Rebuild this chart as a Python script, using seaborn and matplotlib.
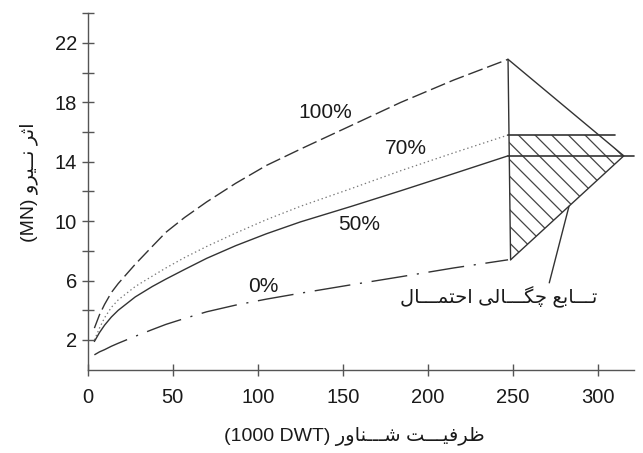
import numpy as np
import pandas as pd
import seaborn as sns
import matplotlib.pyplot as plt
from matplotlib.ticker import FixedLocator

# ظرفیت شناور (1000 DWT) و اثر نیرو (MN) خوانده شده از نمودار
dwt = [4, 7, 10, 14, 18, 28, 38, 46, 57, 70, 87, 105, 125, 155, 184, 215, 247]
force_100 = [2.8, 3.7, 4.4, 5.2, 5.8, 7.1, 8.3, 9.25, 10.25, 11.3, 12.55, 13.75, 14.85,
             16.45, 18.0, 19.5, 20.9]
force_70 = [2.0, 2.8, 3.5, 4.2, 4.7, 5.6, 6.3, 6.85, 7.55, 8.3, 9.2, 10.1, 11.0,
            12.2, 13.4, 14.6, 15.8]
force_50 = [1.9, 2.5, 3.0, 3.55, 4.0, 4.9, 5.6, 6.1, 6.75, 7.5, 8.35, 9.15, 9.95,
            11.0, 12.05, 13.2, 14.4]
force_0 = [1.0, 1.2, 1.35, 1.58, 1.78, 2.25, 2.7, 3.05, 3.45, 3.9, 4.35, 4.75, 5.15,
           5.72, 6.26, 6.85, 7.4]
labels = ['100%', '70%', '50%', '0%']

# تابع چگالی احتمال (مثلث) در انتهای منحنی ها
pdf_dwt = [247, 315, 248.5]
pdf_force = [20.9, 14.4, 7.4]

xticks = [0, 50, 100, 150, 200, 250, 300]
yticks = [2, 6, 10, 14, 18, 22]
yticks_minor = [4, 8, 12, 16, 20, 24]

# شکل دهی ساده حروف فارسی (matplotlib خودش حروف را به هم نمی چسباند)
FORMS = {
    'ا': ('\uFE8D', '\uFE8E', None, None),
    'ب': ('\uFE8F', '\uFE90', '\uFE91', '\uFE92'),
    'ت': ('\uFE95', '\uFE96', '\uFE97', '\uFE98'),
    'ث': ('\uFE99', '\uFE9A', '\uFE9B', '\uFE9C'),
    'ح': ('\uFEA1', '\uFEA2', '\uFEA3', '\uFEA4'),
    'ر': ('\uFEAD', '\uFEAE', None, None),
    'ش': ('\uFEB5', '\uFEB6', '\uFEB7', '\uFEB8'),
    'ظ': ('\uFEC5', '\uFEC6', '\uFEC7', '\uFEC8'),
    'ع': ('\uFEC9', '\uFECA', '\uFECB', '\uFECC'),
    'ف': ('\uFED1', '\uFED2', '\uFED3', '\uFED4'),
    'ل': ('\uFEDD', '\uFEDE', '\uFEDF', '\uFEE0'),
    'م': ('\uFEE1', '\uFEE2', '\uFEE3', '\uFEE4'),
    'ن': ('\uFEE5', '\uFEE6', '\uFEE7', '\uFEE8'),
    'و': ('\uFEED', '\uFEEE', None, None),
    'ی': ('\uFBFC', '\uFBFD', '\uFBFE', '\uFBFF'),
    'چ': ('\uFB7A', '\uFB7B', '\uFB7C', '\uFB7D'),
    'گ': ('\uFB92', '\uFB93', '\uFB94', '\uFB95'),
    'ـ': ('ـ', 'ـ', 'ـ', 'ـ'),
}


def farsi(text):
    out = []
    for i, c in enumerate(text):
        if c not in FORMS:
            out.append(c)
            continue
        prev = text[i - 1] if i > 0 else None
        nxt = text[i + 1] if i + 1 < len(text) else None
        j_prev = prev in FORMS and FORMS[prev][2] is not None
        j_next = nxt in FORMS and FORMS[c][2] is not None
        iso, fin, ini, med = FORMS[c]
        if j_prev and j_next:
            out.append(med)
        elif j_prev:
            out.append(fin)
        elif j_next:
            out.append(ini)
        else:
            out.append(iso)
    return ''.join(out)[::-1]


sns.set_theme(style="ticks")
plt.rcParams['font.family'] = ['Liberation Sans', 'DejaVu Sans']
plt.rcParams['lines.scale_dashes'] = False
plt.rcParams['hatch.linewidth'] = 0.9

df = pd.DataFrame({'dwt': dwt, '100%': force_100, '70%': force_70,
                   '50%': force_50, '0%': force_0})

fig = plt.figure(figsize=(6.43, 4.53), dpi=100)
ax = fig.add_axes([0.1362, 0.1839, 0.8498, 0.7868])

ink = '#333333'
styles = {
    '100%': dict(color=ink, lw=1.0, linestyle=(0, (11, 3.5))),
    '70%': dict(color='#777777', lw=0.9, linestyle=(0, (1, 2))),
    '50%': dict(color=ink, lw=1.0, linestyle='-'),
    '0%': dict(color=ink, lw=1.0, linestyle=(0, (26, 7, 1.5, 7))),
}
for name in labels:
    sns.lineplot(data=df, x='dwt', y=name, ax=ax, **styles[name])

# مثلث چگالی و خطوط افقی
ax.plot([pdf_dwt[0], pdf_dwt[2]], [pdf_force[0], pdf_force[2]], color=ink, lw=1.0)
ax.plot(pdf_dwt, pdf_force, color=ink, lw=1.0)
ax.plot([dwt[-1], 310], [force_70[-1], force_70[-1]], color=ink, lw=1.2)
ax.plot([dwt[-1], 321], [force_50[-1], force_50[-1]], color=ink, lw=1.2, clip_on=False)

# ناحیه هاشور خورده زیر سطح ۷۰٪
x_top = np.interp(force_70[-1], pdf_force[1::-1], pdf_dwt[1::-1])
x_left = np.interp(force_70[-1], [pdf_force[2], pdf_force[0]], [pdf_dwt[2], pdf_dwt[0]])
ax.fill([x_left, x_top, pdf_dwt[1], pdf_dwt[2]],
        [force_70[-1], force_70[-1], pdf_force[1], pdf_force[2]],
        facecolor='none', edgecolor='#444444', hatch='\\\\', lw=0)

label_pos = {'100%': (139.6, 17.3), '70%': (186.7, 14.9),
             '50%': (159.3, 9.75), '0%': (103.4, 5.6)}
for name, (lx, ly) in label_pos.items():
    ax.text(lx, ly, name, fontsize=15, color='#1a1a1a', ha='center', va='center')

ax.annotate(farsi('تـــابع چگـــالی احتمـــال'), xy=(282.8, 11.0), xytext=(241.6, 4.9),
            fontsize=14, color='#1a1a1a', ha='center', va='center',
            arrowprops=dict(arrowstyle='-', color=ink, lw=1.0,
                            shrinkA=0, shrinkB=0, relpos=(0.75, 0.95)))

ax.set_xlim(0, 321)
ax.set_ylim(0, 24)
ax.set_xticks(xticks)
ax.set_yticks(yticks)
ax.yaxis.set_minor_locator(FixedLocator(yticks_minor))
ax.tick_params(axis='both', which='both', direction='inout', length=8, width=1,
               color='#555555', labelsize=14.5, labelcolor='#1a1a1a')
ax.tick_params(axis='x', pad=9.5)
ax.tick_params(axis='y', pad=3.5)
ax.set_xlabel('')
ax.set_ylabel('')
sns.despine(ax=ax)
for side in ['left', 'bottom']:
    ax.spines[side].set_color('#555555')
    ax.spines[side].set_linewidth(1.0)

fig.text(354 / 643, 1 - 437 / 453, '(1000 DWT) ' + farsi('ظرفیـــت شـــناور'),
         fontsize=14, color='#1a1a1a', ha='center', va='center')
fig.text(29 / 643, 1 - 182 / 453, '(MN) ' + farsi('اثر نــیرو'), rotation=90,
         fontsize=14, color='#1a1a1a', ha='center', va='center')

fig.savefig('out.png', dpi=100, facecolor='white')
